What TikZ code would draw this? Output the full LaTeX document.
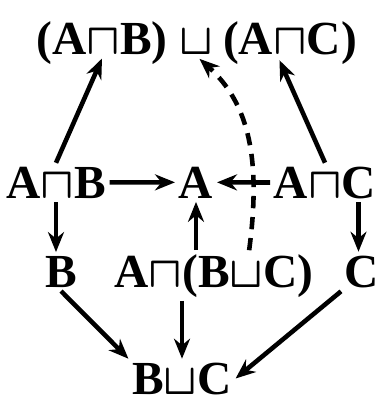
\documentclass[tikz,border=0pt]{standalone}
\usepackage{fontspec}
\setmainfont{Liberation Serif}
\usetikzlibrary{arrows.meta, positioning}

\begin{document}
\begin{tikzpicture}[
    x=0.02cm, y=-0.02cm,
    obj/.style={anchor=base, inner sep=2pt, font=\fontsize{27}{31}\selectfont\bfseries\boldmath},
    arrow/.style={-{Stealth[length=4mm, width=3.2mm]}, line width=2.6pt},
    dasharrow/.style={arrow, dash pattern=on 7pt off 5pt}
]
\useasboundingbox (0,0) rectangle (380,402);

% Top row: the coproduct
\node[obj] (cup) at (196,55) {$\sqcup$};
\node[obj] (tab) at (102,55) {(A$\sqcap$B)};
\node[obj] (tac) at (290,55) {(A$\sqcap$C)};

% Products
\node[obj] (ab) at (56,198) {A$\sqcap$B};
\node[obj] (a) at (196,198) {A};
\node[obj] (ac) at (325,198) {A$\sqcap$C};

% Lower row
\node[obj] (b) at (61,287) {B};
\node[obj] (abc) at (214,287) {A$\sqcap$(B$\sqcup$C)};
\node[obj] (c) at (362,287) {C};

% Bottom
\node[obj] (bc) at (182,394) {B$\sqcup$C};

% Arrows
\draw[arrow] (ab.north) -- ([yshift=-2pt]tab.base);
\draw[arrow] (ac.north) -- ([xshift=-6pt, yshift=-3pt]tac.base);
\draw[arrow] (ab.east) -- (a.west);
\draw[arrow] (ac.west) -- (a.east);
\draw[arrow] (abc.north -| a) -- (a.south);
\draw[arrow] (ab.south) -- (ab.south |- b.north);
\draw[arrow] ([xshift=-2pt]c.north |- ac.south) -- ([xshift=-2pt]c.north);
\draw[arrow] (b.south) -- (bc.north west);
\draw[arrow] (abc.south -| bc) -- (bc.north);
\draw[arrow] (c.south west) -- (bc.east);
\draw[dasharrow] ([xshift=20pt]abc.north) .. controls +(12,-90) and +(50,45) .. ([xshift=2pt]cup.south);

\end{tikzpicture}
\end{document}
